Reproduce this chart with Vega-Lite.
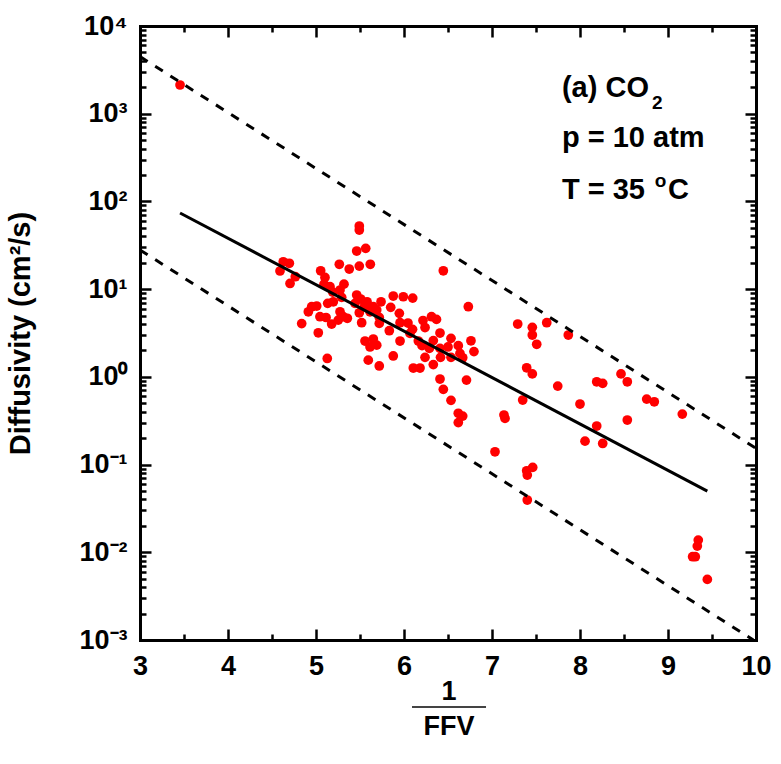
{
  "$schema": "https://vega.github.io/schema/vega-lite/v6.json",
  "width": 616,
  "height": 614,
  "autosize": {"type": "none"},
  "padding": {"left": 140, "top": 26, "right": 25, "bottom": 124},
  "background": "white",
  "config": {"view": {"stroke": null}, "font": "Liberation Sans"},
  "datasets": {
    "pts": [
      {"inv_ffv": 3.455, "D": 2125},
      {"inv_ffv": 4.591, "D": 16.1},
      {"inv_ffv": 4.628, "D": 20.5},
      {"inv_ffv": 4.697, "D": 19.7},
      {"inv_ffv": 4.765, "D": 13.85},
      {"inv_ffv": 4.705, "D": 11.6},
      {"inv_ffv": 5.492, "D": 52.4},
      {"inv_ffv": 5.492, "D": 47.2},
      {"inv_ffv": 5.4625, "D": 27.2},
      {"inv_ffv": 5.565, "D": 29.2},
      {"inv_ffv": 5.265, "D": 19.2},
      {"inv_ffv": 5.378, "D": 16.95},
      {"inv_ffv": 5.492, "D": 18.3},
      {"inv_ffv": 5.617, "D": 19.2},
      {"inv_ffv": 6.447, "D": 16.2},
      {"inv_ffv": 5.053, "D": 16.2},
      {"inv_ffv": 5.102, "D": 13.6},
      {"inv_ffv": 5.091, "D": 11.4},
      {"inv_ffv": 5.159, "D": 10.65},
      {"inv_ffv": 5.318, "D": 11.4},
      {"inv_ffv": 5.273, "D": 9.77},
      {"inv_ffv": 5.19, "D": 9.27},
      {"inv_ffv": 5.292, "D": 8.06},
      {"inv_ffv": 5.4625, "D": 8.56},
      {"inv_ffv": 5.508, "D": 7.71},
      {"inv_ffv": 5.58, "D": 7.18},
      {"inv_ffv": 5.651, "D": 6.3},
      {"inv_ffv": 5.739, "D": 7.18},
      {"inv_ffv": 5.878, "D": 8.34},
      {"inv_ffv": 5.992, "D": 8.19},
      {"inv_ffv": 6.099, "D": 7.91},
      {"inv_ffv": 5.443, "D": 6.89},
      {"inv_ffv": 5.549, "D": 6.3},
      {"inv_ffv": 5.69, "D": 5.78},
      {"inv_ffv": 5.849, "D": 6.2},
      {"inv_ffv": 5.947, "D": 5.3},
      {"inv_ffv": 4.951, "D": 6.3},
      {"inv_ffv": 5.008, "D": 6.42},
      {"inv_ffv": 4.913, "D": 5.52},
      {"inv_ffv": 5.133, "D": 6.89},
      {"inv_ffv": 5.197, "D": 7.18},
      {"inv_ffv": 5.273, "D": 5.52},
      {"inv_ffv": 5.045, "D": 4.85},
      {"inv_ffv": 5.114, "D": 4.75},
      {"inv_ffv": 5.31, "D": 4.85},
      {"inv_ffv": 5.356, "D": 4.65},
      {"inv_ffv": 5.253, "D": 4.44},
      {"inv_ffv": 5.178, "D": 4.0},
      {"inv_ffv": 4.8375, "D": 4.05},
      {"inv_ffv": 5.026, "D": 3.18},
      {"inv_ffv": 5.519, "D": 4.14},
      {"inv_ffv": 5.492, "D": 5.38},
      {"inv_ffv": 5.614, "D": 5.52},
      {"inv_ffv": 5.719, "D": 4.77},
      {"inv_ffv": 5.719, "D": 4.07},
      {"inv_ffv": 5.833, "D": 3.36},
      {"inv_ffv": 5.955, "D": 4.14},
      {"inv_ffv": 6.045, "D": 4.11},
      {"inv_ffv": 6.097, "D": 3.48},
      {"inv_ffv": 6.216, "D": 4.39},
      {"inv_ffv": 6.3125, "D": 4.85},
      {"inv_ffv": 6.369, "D": 4.52},
      {"inv_ffv": 6.239, "D": 3.65},
      {"inv_ffv": 6.409, "D": 3.16},
      {"inv_ffv": 6.534, "D": 2.75},
      {"inv_ffv": 6.068, "D": 3.13},
      {"inv_ffv": 5.955, "D": 2.56},
      {"inv_ffv": 6.163, "D": 2.56},
      {"inv_ffv": 6.205, "D": 2.27},
      {"inv_ffv": 6.333, "D": 2.59},
      {"inv_ffv": 6.288, "D": 2.11},
      {"inv_ffv": 6.409, "D": 2.11},
      {"inv_ffv": 6.5, "D": 2.19},
      {"inv_ffv": 6.617, "D": 2.27},
      {"inv_ffv": 6.636, "D": 1.85},
      {"inv_ffv": 6.534, "D": 1.67},
      {"inv_ffv": 6.415, "D": 1.67},
      {"inv_ffv": 6.333, "D": 1.38},
      {"inv_ffv": 6.239, "D": 1.67},
      {"inv_ffv": 6.106, "D": 1.26},
      {"inv_ffv": 6.182, "D": 1.26},
      {"inv_ffv": 5.878, "D": 1.73},
      {"inv_ffv": 5.719, "D": 1.33},
      {"inv_ffv": 5.557, "D": 2.56},
      {"inv_ffv": 5.651, "D": 2.7},
      {"inv_ffv": 5.614, "D": 2.19},
      {"inv_ffv": 5.69, "D": 2.3},
      {"inv_ffv": 5.594, "D": 1.55},
      {"inv_ffv": 5.128, "D": 1.62},
      {"inv_ffv": 6.731, "D": 6.3},
      {"inv_ffv": 6.409, "D": 0.944},
      {"inv_ffv": 6.71, "D": 0.919},
      {"inv_ffv": 6.795, "D": 1.94},
      {"inv_ffv": 6.761, "D": 2.58},
      {"inv_ffv": 6.667, "D": 1.65},
      {"inv_ffv": 6.447, "D": 0.72},
      {"inv_ffv": 6.534, "D": 0.54},
      {"inv_ffv": 6.617, "D": 0.384},
      {"inv_ffv": 6.667, "D": 0.357},
      {"inv_ffv": 6.617, "D": 0.301},
      {"inv_ffv": 7.034, "D": 0.14},
      {"inv_ffv": 7.136, "D": 0.367},
      {"inv_ffv": 7.148, "D": 0.336},
      {"inv_ffv": 7.394, "D": 0.085},
      {"inv_ffv": 7.4625, "D": 0.0929},
      {"inv_ffv": 7.401, "D": 0.0759},
      {"inv_ffv": 7.401, "D": 0.0394},
      {"inv_ffv": 7.292, "D": 4.0},
      {"inv_ffv": 7.458, "D": 3.67},
      {"inv_ffv": 7.458, "D": 3.0},
      {"inv_ffv": 7.508, "D": 2.35},
      {"inv_ffv": 7.622, "D": 4.14},
      {"inv_ffv": 7.867, "D": 3.0},
      {"inv_ffv": 7.394, "D": 1.27},
      {"inv_ffv": 7.458, "D": 1.08},
      {"inv_ffv": 7.349, "D": 0.544},
      {"inv_ffv": 7.747, "D": 0.785},
      {"inv_ffv": 8.0, "D": 0.49},
      {"inv_ffv": 8.19, "D": 0.879},
      {"inv_ffv": 8.258, "D": 0.843},
      {"inv_ffv": 8.19, "D": 0.275},
      {"inv_ffv": 8.057, "D": 0.185},
      {"inv_ffv": 8.258, "D": 0.174},
      {"inv_ffv": 8.466, "D": 1.08},
      {"inv_ffv": 8.5375, "D": 0.879},
      {"inv_ffv": 8.5375, "D": 0.322},
      {"inv_ffv": 8.758, "D": 0.558},
      {"inv_ffv": 8.844, "D": 0.52},
      {"inv_ffv": 9.1625, "D": 0.376},
      {"inv_ffv": 9.344, "D": 0.01377},
      {"inv_ffv": 9.333, "D": 0.01177},
      {"inv_ffv": 9.28, "D": 0.0089},
      {"inv_ffv": 9.31, "D": 0.0089},
      {"inv_ffv": 9.447, "D": 0.00491}
    ],
    "fit": [
      {"inv_ffv": 3.455, "D": 73.8},
      {"inv_ffv": 9.447, "D": 0.0499}
    ],
    "upper": [
      {"inv_ffv": 3.0, "D": 4480},
      {"inv_ffv": 10.0, "D": 0.153}
    ],
    "lower": [
      {"inv_ffv": 3.0, "D": 28},
      {"inv_ffv": 9.97, "D": 0.001}
    ]
  },
  "resolve": {"axis": {"x": "independent", "y": "independent"}},
  "layer": [
    {
      "data": {"name": "pts"},
      "mark": {"type": "point", "filled": true, "shape": "circle", "size": 95, "color": "#ff0000", "opacity": 1},
      "encoding": {
        "x": {
          "field": "inv_ffv", "type": "quantitative",
          "scale": {"domain": [3, 10], "nice": false, "zero": false},
          "axis": {
            "orient": "bottom", "title": null, "grid": false,
            "values": [3, 4, 5, 6, 7, 8, 9, 10],
            "format": "d",
            "domainColor": "black", "domainWidth": 3, "domainCap": "square",
            "tickColor": "black", "tickWidth": 2.5, "tickSize": -11,
            "labelFont": "Liberation Sans", "labelFontSize": 27, "labelFontWeight": "bold", "labelColor": "black",
            "labelPadding": 24, "labelOverlap": false, "labelFlush": false, "labelBound": false
          }
        },
        "y": {
          "field": "D", "type": "quantitative",
          "scale": {"type": "log", "domain": [0.001, 10000], "nice": false},
          "axis": {
            "orient": "left", "grid": false,
            "title": "Diffusivity (cm²/s)",
            "titleFont": "Liberation Sans", "titleFontSize": 29, "titleFontWeight": "bold", "titleColor": "black", "titlePadding": 43,
            "values": [0.001, 0.01, 0.1, 1, 10, 100, 1000, 10000],
            "domainColor": "black", "domainWidth": 3, "domainCap": "square",
            "tickColor": "black", "tickWidth": 2.5, "tickSize": -11,
            "labelExpr": "['10⁻³','10⁻²','10⁻¹','10⁰','10¹','10²','10³','10⁴'][round(log(datum.value)/LN10)+3]",
            "labelFont": "Liberation Sans", "labelFontSize": 27, "labelFontWeight": "bold", "labelColor": "black",
            "labelPadding": 24, "labelOverlap": false, "labelFlush": false, "labelBound": false
          }
        }
      }
    },
    {
      "data": {"name": "fit"},
      "mark": {"type": "line", "color": "black", "strokeWidth": 3},
      "encoding": {
        "x": {
          "field": "inv_ffv", "type": "quantitative",
          "scale": {"domain": [3, 10], "nice": false, "zero": false},
          "axis": {
            "orient": "top", "title": null, "grid": false, "labels": false,
            "values": [3, 4, 5, 6, 7, 8, 9, 10],
            "domainColor": "black", "domainWidth": 3, "domainCap": "square",
            "tickColor": "black", "tickWidth": 2.5, "tickSize": -11
          }
        },
        "y": {
          "field": "D", "type": "quantitative",
          "scale": {"type": "log", "domain": [0.001, 10000], "nice": false},
          "axis": {
            "orient": "right", "title": null, "grid": false, "labels": false,
            "values": [0.001, 0.01, 0.1, 1, 10, 100, 1000, 10000],
            "domainColor": "black", "domainWidth": 3, "domainCap": "square",
            "tickColor": "black", "tickWidth": 2.5, "tickSize": -11
          }
        }
      }
    },
    {
      "data": {"name": "upper"},
      "mark": {"type": "line", "color": "black", "strokeWidth": 3, "strokeDash": [9, 9]},
      "encoding": {
        "x": {
          "field": "inv_ffv", "type": "quantitative",
          "axis": {
            "orient": "bottom", "title": null, "grid": false, "labels": false, "domain": false,
            "values": [3.5, 4.5, 5.5, 6.5, 7.5, 8.5, 9.5],
            "tickColor": "black", "tickWidth": 2.5, "tickSize": -6
          }
        },
        "y": {
          "field": "D", "type": "quantitative",
          "axis": {
            "orient": "left", "title": null, "grid": false, "labels": false, "domain": false,
            "values": [0.002, 0.003, 0.004, 0.005, 0.006, 0.007, 0.008, 0.009, 0.02, 0.03, 0.04, 0.05, 0.06, 0.07, 0.08, 0.09, 0.2, 0.3, 0.4, 0.5, 0.6, 0.7, 0.8, 0.9, 2, 3, 4, 5, 6, 7, 8, 9, 20, 30, 40, 50, 60, 70, 80, 90, 200, 300, 400, 500, 600, 700, 800, 900, 2000, 3000, 4000, 5000, 6000, 7000, 8000, 9000],
            "tickColor": "black", "tickWidth": 2.5, "tickSize": -6
          }
        }
      }
    },
    {
      "data": {"name": "lower"},
      "mark": {"type": "line", "color": "black", "strokeWidth": 3, "strokeDash": [9, 9]},
      "encoding": {
        "x": {
          "field": "inv_ffv", "type": "quantitative",
          "axis": {
            "orient": "top", "title": null, "grid": false, "labels": false, "domain": false,
            "values": [3.5, 4.5, 5.5, 6.5, 7.5, 8.5, 9.5],
            "tickColor": "black", "tickWidth": 2.5, "tickSize": -6
          }
        },
        "y": {
          "field": "D", "type": "quantitative",
          "axis": {
            "orient": "right", "title": null, "grid": false, "labels": false, "domain": false,
            "values": [0.002, 0.003, 0.004, 0.005, 0.006, 0.007, 0.008, 0.009, 0.02, 0.03, 0.04, 0.05, 0.06, 0.07, 0.08, 0.09, 0.2, 0.3, 0.4, 0.5, 0.6, 0.7, 0.8, 0.9, 2, 3, 4, 5, 6, 7, 8, 9, 20, 30, 40, 50, 60, 70, 80, 90, 200, 300, 400, 500, 600, 700, 800, 900, 2000, 3000, 4000, 5000, 6000, 7000, 8000, 9000],
            "tickColor": "black", "tickWidth": 2.5, "tickSize": -6
          }
        }
      }
    },
    {
      "data": {"values": [{}]},
      "mark": {"type": "text", "align": "left", "baseline": "alphabetic", "font": "Liberation Sans", "fontSize": 29, "fontWeight": "bold", "color": "black"},
      "encoding": {
        "x": {"datum": 7.795, "type": "quantitative", "axis": null},
        "y": {"datum": 1538, "type": "quantitative", "axis": null},
        "text": {"value": "(a) CO"}
      }
    },
    {
      "data": {"values": [{}]},
      "mark": {"type": "text", "align": "left", "baseline": "alphabetic", "font": "Liberation Sans", "fontSize": 19, "fontWeight": "bold", "color": "black"},
      "encoding": {
        "x": {"datum": 8.818, "type": "quantitative", "axis": null},
        "y": {"datum": 1132, "type": "quantitative", "axis": null},
        "text": {"value": "2"}
      }
    },
    {
      "data": {"values": [{}]},
      "mark": {"type": "text", "align": "left", "baseline": "alphabetic", "font": "Liberation Sans", "fontSize": 29, "fontWeight": "bold", "color": "black"},
      "encoding": {
        "x": {"datum": 7.795, "type": "quantitative", "axis": null},
        "y": {"datum": 414, "type": "quantitative", "axis": null},
        "text": {"value": "p = 10 atm"}
      }
    },
    {
      "data": {"values": [{}]},
      "mark": {"type": "text", "align": "left", "baseline": "alphabetic", "font": "Liberation Sans", "fontSize": 29, "fontWeight": "bold", "color": "black"},
      "encoding": {
        "x": {"datum": 7.795, "type": "quantitative", "axis": null},
        "y": {"datum": 105.7, "type": "quantitative", "axis": null},
        "text": {"value": "T = 35"}
      }
    },
    {
      "data": {"values": [{}]},
      "mark": {"type": "text", "align": "left", "baseline": "alphabetic", "font": "Liberation Sans", "fontSize": 19, "fontWeight": "bold", "color": "black"},
      "encoding": {
        "x": {"datum": 8.85, "type": "quantitative", "axis": null},
        "y": {"datum": 146, "type": "quantitative", "axis": null},
        "text": {"value": "o"}
      }
    },
    {
      "data": {"values": [{}]},
      "mark": {"type": "text", "align": "left", "baseline": "alphabetic", "font": "Liberation Sans", "fontSize": 29, "fontWeight": "bold", "color": "black"},
      "encoding": {
        "x": {"datum": 9.0, "type": "quantitative", "axis": null},
        "y": {"datum": 105.7, "type": "quantitative", "axis": null},
        "text": {"value": "C"}
      }
    },
    {
      "data": {"values": [{}]},
      "mark": {"type": "text", "align": "center", "baseline": "alphabetic", "font": "Liberation Sans", "fontSize": 27, "fontWeight": "bold", "color": "black"},
      "encoding": {
        "x": {"datum": 6.511, "type": "quantitative", "axis": null},
        "y": {"datum": 0.000206, "type": "quantitative", "axis": null},
        "text": {"value": "1"}
      }
    },
    {
      "data": {"values": [{}]},
      "mark": {"type": "rule", "color": "#444444", "strokeWidth": 2},
      "encoding": {
        "x": {"datum": 6.091, "type": "quantitative", "axis": null},
        "x2": {"datum": 6.932},
        "y": {"datum": 0.000172, "type": "quantitative", "axis": null}
      }
    },
    {
      "data": {"values": [{}]},
      "mark": {"type": "text", "align": "center", "baseline": "alphabetic", "font": "Liberation Sans", "fontSize": 27, "fontWeight": "bold", "color": "black"},
      "encoding": {
        "x": {"datum": 6.511, "type": "quantitative", "axis": null},
        "y": {"datum": 0.0000824, "type": "quantitative", "axis": null},
        "text": {"value": "FFV"}
      }
    }
  ]
}
